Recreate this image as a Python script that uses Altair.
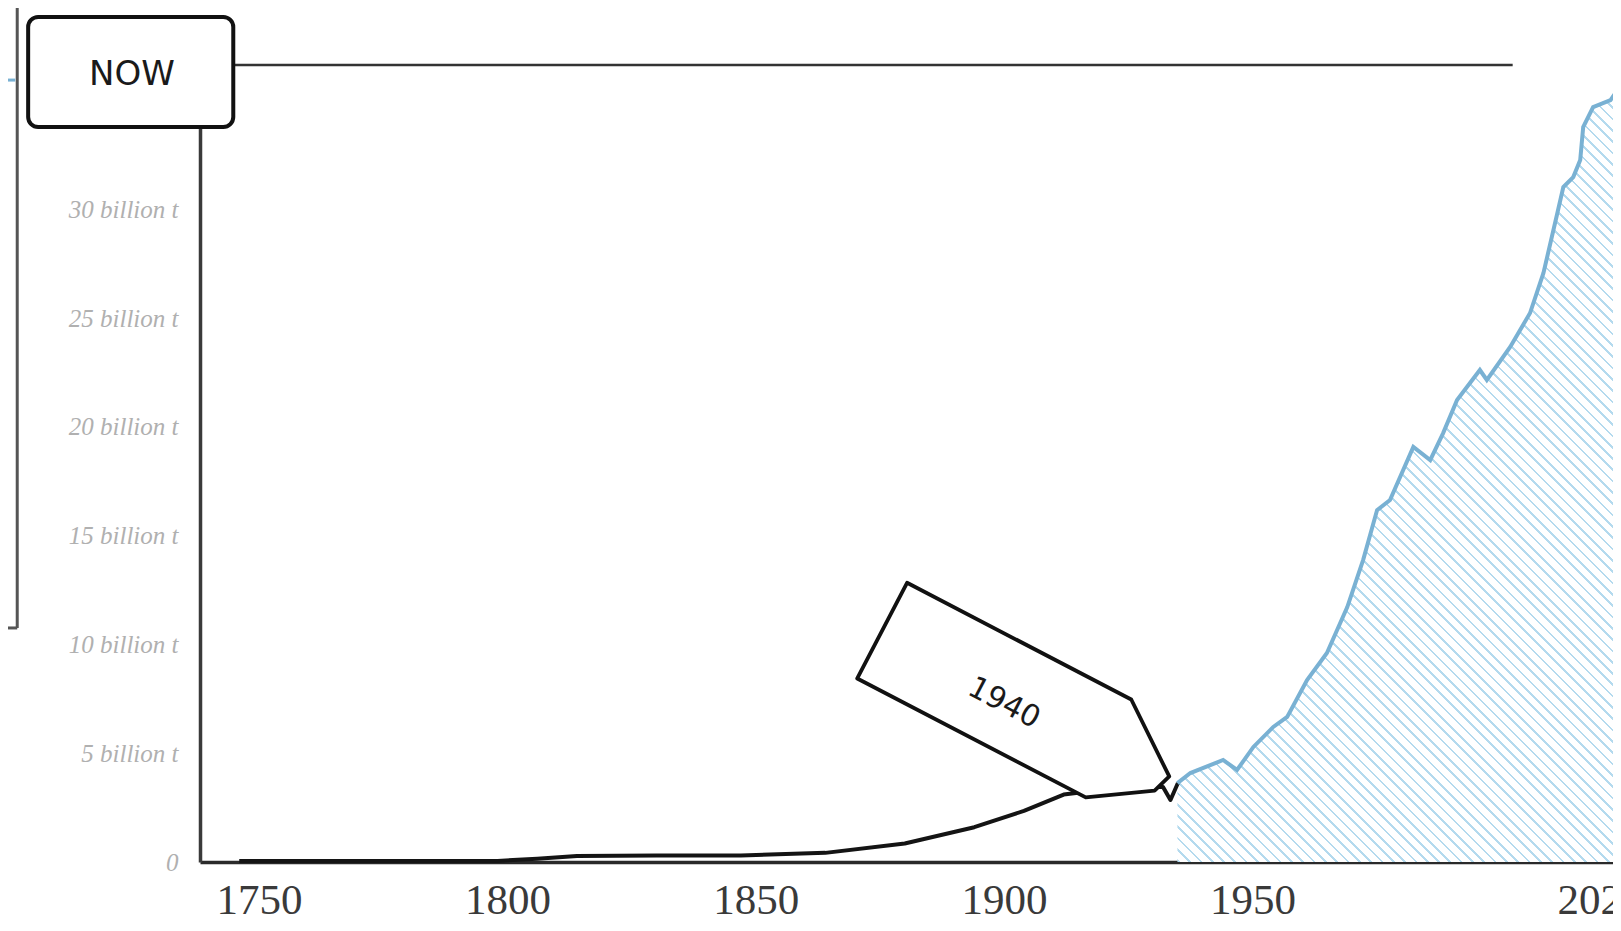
import math
import altair as alt
import pandas as pd

# ---------------- data ----------------
black_years = [1746, 1770, 1798, 1806, 1814, 1830, 1847, 1864, 1880, 1894,
               1904, 1912, 1919, 1927, 1932, 1933.5, 1935]
black_vals = [0.05, 0.05, 0.05, 0.15, 0.28, 0.30, 0.30, 0.42, 0.85, 1.60,
              2.35, 3.10, 3.30, 3.45, 3.45, 2.85, 3.63]

blue_years = [1934.9, 1937.5, 1944.1, 1946.9, 1950.2, 1954.2, 1957.0, 1961.0,
              1965.0, 1969.1, 1972.3, 1975.1, 1977.7, 1982.4, 1985.8, 1988.4,
              1991.2, 1995.8, 1997.2, 2001.9, 2005.9, 2008.6, 2011.4, 2012.6,
              2014.6, 2016.0, 2016.6, 2018.6, 2022.1, 2023.5, 2024.1]
blue_vals = [3.63, 4.09, 4.69, 4.23, 5.29, 6.21, 6.67, 8.37, 9.61, 11.72,
             13.89, 16.18, 16.64, 19.08, 18.48, 19.72, 21.24, 22.62, 22.16,
             23.68, 25.24, 27.08, 29.84, 31.03, 31.49, 32.28, 33.79, 34.71,
             35.03, 35.49, 36.40]

x_ticks = [1750, 1800, 1850, 1900, 1950, 2020]
y_ticks = [0, 5, 10, 15, 20, 25, 30]

now_label = "NOW"
tag_label = "1940"

# ---------------- layout ----------------
PW, PH = 1413, 845
XD = [1738.1, 2022.6]
YD = [0, 38.85]

xs = alt.Scale(domain=XD, nice=False, zero=False)
ys = alt.Scale(domain=YD, nice=False, zero=False)

black_df = pd.DataFrame({"year": black_years, "v": black_vals})
blue_df = pd.DataFrame({"year": blue_years, "v": blue_vals})

# hatch fill made from a striped gradient
def px(yr):
    return (yr - XD[0]) / (XD[1] - XD[0]) * PW

def py(v):
    return PH - v / YD[1] * PH

W = px(max(blue_years)) - px(min(blue_years))
H = py(0) - py(max(blue_vals))
t = W * (W + H) / (W * W + H * H)
L = (W + H) / math.sqrt(2)
period, sw = 8.0, 1.9
stripe, bg = "#b4daee", "#ffffff"
stops = []
k = 0
while k * period < L:
    a = k * period / L
    b = min(1.0, (k * period + sw) / L)
    stops += [{"offset": a, "color": bg}, {"offset": a, "color": stripe},
              {"offset": b, "color": stripe}, {"offset": b, "color": bg}]
    k += 1
stops.append({"offset": 1.0, "color": bg})
hatch = {"gradient": "linear", "x1": 0, "y1": 1, "x2": t, "y2": 1 - t * H / W,
         "stops": stops}

X = alt.X("year:Q", scale=xs,
          axis=alt.Axis(values=x_ticks, format="d", title=None, ticks=False,
                        grid=False, labelFont="Liberation Serif", labelFontSize=43,
                        labelColor="#3a3a3a", labelPadding=17, labelFlush=False,
                        labelOverlap=False, labelBound=False, domainColor="#2a2a2a",
                        domainWidth=3.5, zindex=0))
Y = alt.Y("v:Q", scale=ys,
          axis=alt.Axis(values=y_ticks, title=None, ticks=False, grid=False,
                        labelExpr="datum.value == 0 ? '0' : datum.value + ' billion t'",
                        labelFont="Liberation Serif", labelFontStyle="italic",
                        labelFontSize=25, labelColor="#b0b0b0", labelPadding=22,
                        domainColor="#3a3a3a", domainWidth=3.5, zindex=0))

area = alt.Chart(blue_df).mark_area(fill=hatch, clip=True).encode(
    x=X, y=Y, y2=alt.datum(0))

blue_line = alt.Chart(blue_df).mark_line(color="#79b1d3", strokeWidth=4,
                                         clip=True).encode(x="year:Q", y="v:Q")

black_line = alt.Chart(black_df).mark_line(color="#141414", strokeWidth=4,
                                           strokeJoin="round").encode(
    x="year:Q", y="v:Q")

# top frame line
top_df = pd.DataFrame({"x1": [1740.0], "x2": [2002.4], "v": [36.64]})
top_rule = alt.Chart(top_df).mark_rule(color="#333333", strokeWidth=2.5).encode(
    x="x1:Q", x2="x2:Q", y="v:Q")

# remnant of the neighbouring panel on the left
rem_v = pd.DataFrame({"x": [1701.3], "v1": [10.76], "v2": [39.3]})
rem_vrule = alt.Chart(rem_v).mark_rule(color="#555555", strokeWidth=3).encode(
    x="x:Q", y="v1:Q", y2="v2:Q")
rem_h = pd.DataFrame({"x1": [1699.0], "x2": [1701.3], "v": [10.76]})
rem_hrule = alt.Chart(rem_h).mark_rule(color="#555555", strokeWidth=3).encode(
    x="x1:Q", x2="x2:Q", y="v:Q")
rem_b = pd.DataFrame({"x1": [1699.0], "x2": [1700.9], "v": [35.95]})
rem_brule = alt.Chart(rem_b).mark_rule(color="#79b1d3", strokeWidth=3).encode(
    x="x1:Q", x2="x2:Q", y="v:Q")

# "1940" tag
tag_path = "M -1 -0.335 L 0.57 -0.335 L 1 -0.02 L 0.96 0.1 L 0.6 0.335 L -1 0.335 Z"
tag_df = pd.DataFrame({"year": [1904.2], "v": [7.22]})
tag = alt.Chart(tag_df).mark_point(shape=tag_path, size=103684, angle=27.5,
                                   filled=True, fill="white", stroke="#111111",
                                   strokeWidth=3.8, opacity=1,
                                   strokeJoin="round").encode(x="year:Q", y="v:Q")
tag_t_df = pd.DataFrame({"year": [1900.0], "v": [7.3], "t": [tag_label]})
tag_text = alt.Chart(tag_t_df).mark_text(angle=27.5, font="DejaVu Sans", fontSize=30,
                                         color="#1a1a1a", align="center",
                                         baseline="middle").encode(
    x="year:Q", y="v:Q", text="t:N")

# NOW box
now_df = pd.DataFrame({"x1": [1703.5], "x2": [1744.8], "v1": [33.79], "v2": [38.85]})
now_box = alt.Chart(now_df).mark_rect(fill="white", stroke="#111111", strokeWidth=4,
                                      cornerRadius=10).encode(
    x="x1:Q", x2="x2:Q", y="v1:Q", y2="v2:Q")
now_t_df = pd.DataFrame({"year": [1724.4], "v": [36.2], "t": [now_label]})
now_text = alt.Chart(now_t_df).mark_text(font="DejaVu Sans", fontSize=34,
                                         color="#1a1a1a",
                                         align="center", baseline="middle").encode(
    x="year:Q", y="v:Q", text="t:N")

chart = alt.layer(
    area, rem_vrule, rem_hrule, rem_brule, top_rule, black_line, blue_line,
    tag, tag_text, now_box, now_text
).properties(
    width=PW, height=PH,
    autosize=alt.AutoSizeParams(type="none"),
    padding={"left": 192, "top": 9, "right": 0, "bottom": 61},
    background="white",
).configure_view(stroke=None)

chart.save("out.html", embed_options={"renderer": "svg", "actions": False})
